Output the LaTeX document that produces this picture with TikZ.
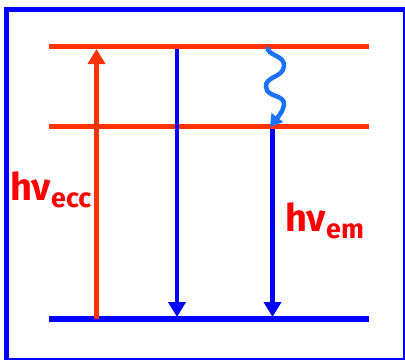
\documentclass[tikz,border=0pt]{standalone}
\usepackage{fontspec}
\setmainfont{Fira Sans}
\usetikzlibrary{arrows.meta}
\definecolor{lvred}{HTML}{FF3300}
\definecolor{fblue}{HTML}{0000FF}
\definecolor{wblue}{HTML}{1A72FF}
\definecolor{tred}{HTML}{FF0000}
\tikzset{
  level/.style={line width=5.5pt},
  trans/.style={line width=4.5pt,-{Triangle[length=15pt,width=17pt]}},
  lbl/.style={text=tred,font=\bfseries\fontsize{38}{38}\selectfont,inner sep=0pt,anchor=base west}
}
\begin{document}
\begin{tikzpicture}[x=1pt,y=-1pt]
\useasboundingbox (0,0) rectangle (405,360);
% frame
\draw[fblue,line width=5.5pt] (6.5,360) -- (6.5,9.5) -- (405,9.5);
\draw[fblue,line width=2.5pt] (403.8,9.5) -- (403.8,358.8) -- (6.5,358.8);
% levels
\coordinate (T1) at (49,46.5);  \coordinate (T2) at (369,46.5);
\coordinate (M1) at (49,126.5); \coordinate (M2) at (369,126.5);
\coordinate (B1) at (49,319);   \coordinate (B2) at (369,319);
\draw[level,lvred] (T1) -- (T2);
\draw[level,lvred] (M1) -- (M2);
\draw[level,fblue] (B1) -- (B2);
% absorption
\coordinate (a0) at (96.5,319); \coordinate (a1) at (96.5,49);
\draw[trans,lvred] (a0) -- (a1);
% emissions
\coordinate (e0) at (177,49); \coordinate (e1) at (177,317);
\draw[trans,fblue] (e0) -- (e1);
\coordinate (f0) at (272.5,129); \coordinate (f1) at (272.5,317);
\draw[trans,fblue] (f0) -- (f1);
% wavy
\coordinate (w0) at (267.5,47);
\coordinate (w1) at (270,127);
\draw[wblue,line width=4.5pt,-{Triangle[length=12pt,width=14pt]}] (w0)
  .. controls (267,56) and (285,55) .. (284,66)
  .. controls (283,78) and (265,76) .. (266,87)
  .. controls (267,98) and (285,94) .. (284,105)
  .. controls (283,112) and (277,118) .. (w1);
% labels
\node[lbl] (lecc) at (10,200) {hν\raisebox{-7pt}{\fontsize{27}{27}\selectfont ecc}};
\node[lbl] (lem) at (285,231) {hν\raisebox{-7pt}{\fontsize{27}{27}\selectfont em}};
\end{tikzpicture}
\end{document}
